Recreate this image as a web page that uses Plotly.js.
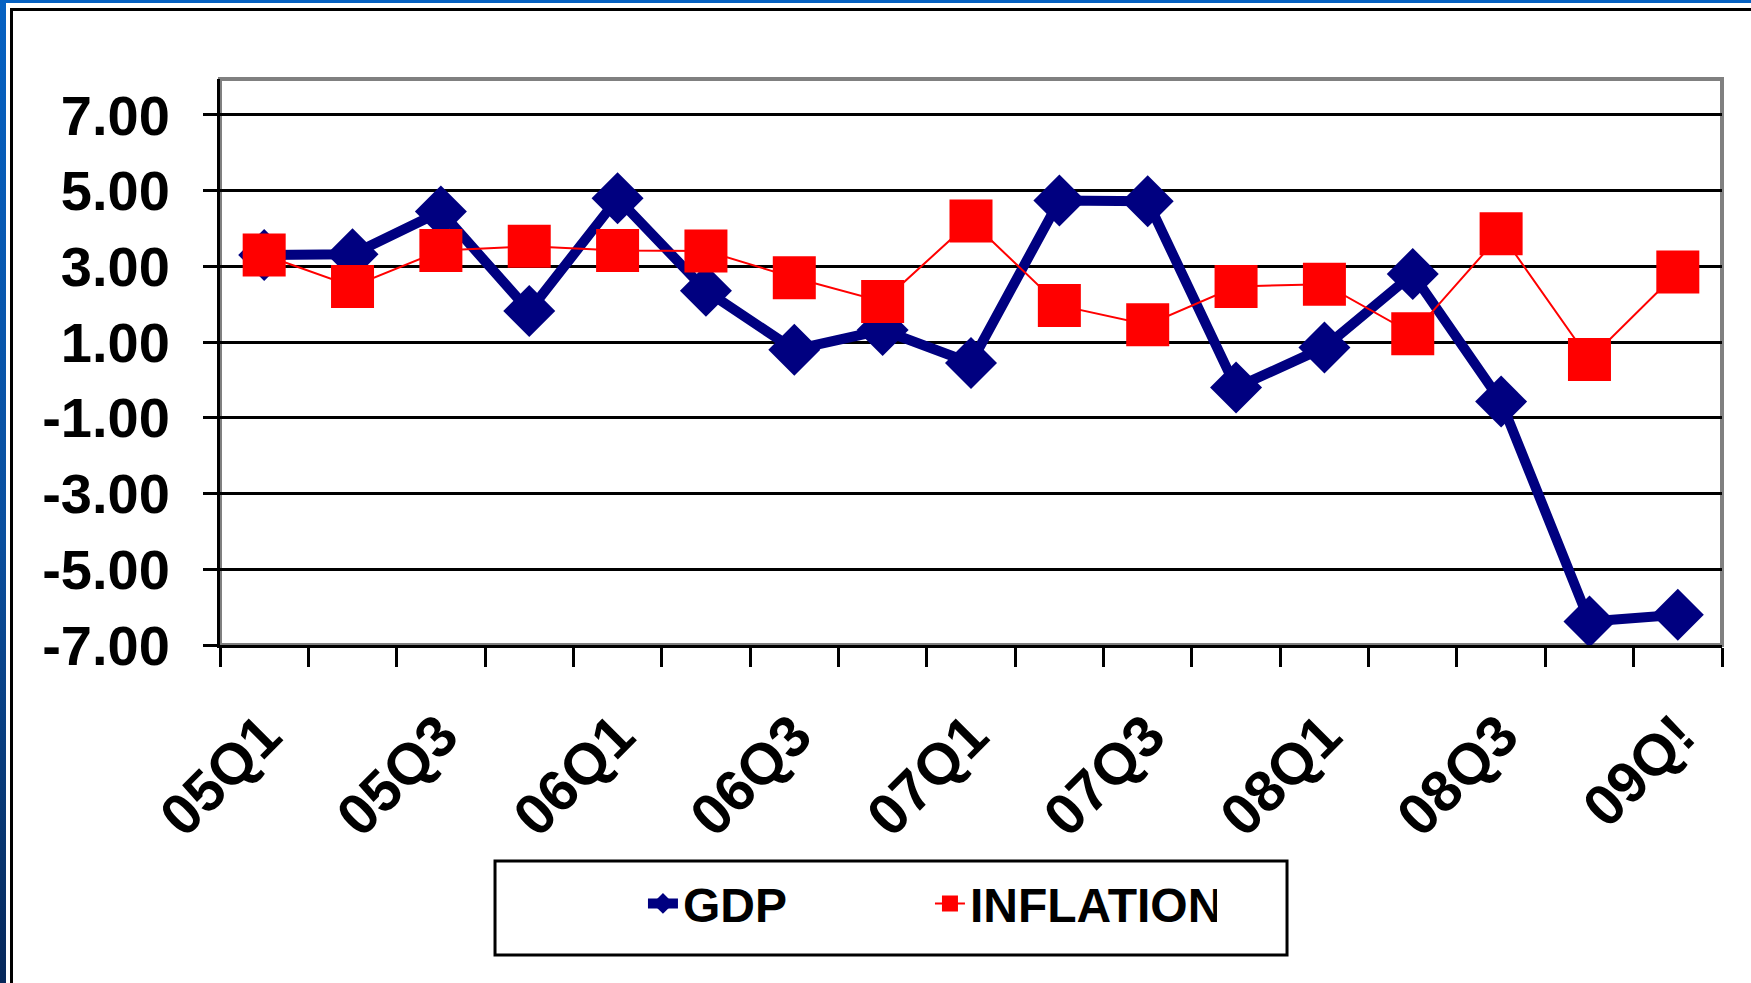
<!DOCTYPE html>
<html>
<head>
<meta charset="utf-8">
<script src="https://cdn.plot.ly/plotly-3.0.1.min.js"></script>
<style>
  html, body { margin: 0; padding: 0; background: #ffffff; overflow: hidden; }
  #chart { position: absolute; left: 0; top: 0; width: 1751px; height: 983px; }
  .deco { position: absolute; pointer-events: none; z-index: 5; }
</style>
</head>
<body>
<div id="chart"></div>
<div class="deco" style="left:0;top:0;width:1751px;height:3px;background:#0561c2;"></div>
<div class="deco" style="left:0;top:0;width:6px;height:983px;background:linear-gradient(#0561c2 0%, #0a4f9e 55%, #06285a 100%);"></div>
<div class="deco" style="left:10px;top:8px;width:1741px;height:3px;background:#000;"></div>
<div class="deco" style="left:10px;top:8px;width:3px;height:975px;background:#000;"></div>
<script>
const quarters = ['05Q1','05Q2','05Q3','05Q4','06Q1','06Q2','06Q3','06Q4','07Q1','07Q2','07Q3','07Q4','08Q1','08Q2','08Q3','08Q4','09Q!'];
const gdp       = [3.30, 3.32, 4.45, 1.82, 4.80, 2.36, 0.80, 1.32, 0.45, 4.74, 4.72, -0.20, 0.86, 2.80, -0.57, -6.38, -6.20];
const inflation = [3.30, 2.47, 3.42, 3.53, 3.42, 3.41, 2.70, 2.07, 4.20, 1.97, 1.46, 2.47, 2.53, 1.22, 3.86, 0.54, 2.85];
const yTicks = [-7, -5, -3, -1, 1, 3, 5, 7];
const yTickText = yTicks.map(v => v.toFixed(2));

const xIdx = quarters.map((q, i) => i);
const labelIdx = xIdx.filter(i => i % 2 === 0);
const labelText = labelIdx.map(i => quarters[i]);

const FONT = '"Liberation Sans", Arial, sans-serif';

const traces = [
  {
    name: 'GDP',
    x: xIdx, y: gdp,
    type: 'scatter', mode: 'lines+markers',
    line: { color: '#000080', width: 10 },
    marker: { symbol: 'diamond', size: 40, color: '#000080' }
  },
  {
    name: 'INFLATION',
    x: xIdx, y: inflation,
    type: 'scatter', mode: 'lines+markers',
    line: { color: '#ff0000', width: 2 },
    marker: { symbol: 'square', size: 43, color: '#ff0000' }
  }
];

const layout = {
  width: 1751, height: 983,
  margin: { l: 220, r: 29, t: 79, b: 338 },
  paper_bgcolor: 'rgba(0,0,0,0)',
  plot_bgcolor: '#ffffff',
  font: { family: FONT, color: '#000000' },
  showlegend: true,
  legend: {
    orientation: 'h',
    x: 0.2816, y: -0.390, xanchor: 'left', yanchor: 'top',
    borderwidth: 0, bgcolor: 'rgba(0,0,0,0)',
    entrywidth: 242,
    font: { family: FONT, size: 48, color: '#000000', weight: 'bold' },
    itemsizing: 'trace'
  },
  xaxis: {
    range: [-0.5, 16.5],
    tickmode: 'array', tickvals: labelIdx, ticktext: labelText,
    tickangle: -45,
    ticks: '',
    ticklabelstandoff: 30,
    tickfont: { family: FONT, size: 58, color: '#000000', weight: 'bold' },
    showgrid: false, zeroline: false,
    showline: true, linecolor: '#000000', linewidth: 3,
    minor: { ticks: 'outside', tick0: -0.5, dtick: 1, ticklen: 19, tickwidth: 3, tickcolor: '#000000', showgrid: false }
  },
  yaxis: {
    range: [-7, 7.95],
    tickmode: 'array', tickvals: yTicks, ticktext: yTickText,
    ticks: 'outside', ticklen: 14, tickwidth: 3, tickcolor: '#000000',
    ticklabelstandoff: 22,
    tickfont: { family: FONT, size: 56, color: '#000000', weight: 'bold' },
    showgrid: true, gridcolor: '#000000', gridwidth: 3,
    zeroline: false,
    showline: true, linecolor: '#000000', linewidth: 3
  },
  shapes: [
    { type: 'rect', xref: 'paper', yref: 'paper', x0: 0, x1: 1, y0: 0, y1: 1,
      line: { color: '#808080', width: 4 }, layer: 'below' },
    { type: 'rect', xref: 'paper', yref: 'paper', x0: 0.1831, x1: 0.7104, y0: -0.5477, y1: -0.3816,
      line: { color: '#000000', width: 3 }, fillcolor: 'rgba(0,0,0,0)', layer: 'below' }
  ]
};

Plotly.newPlot('chart', traces, layout, { displayModeBar: false, staticPlot: true });
</script>
</body>
</html>
